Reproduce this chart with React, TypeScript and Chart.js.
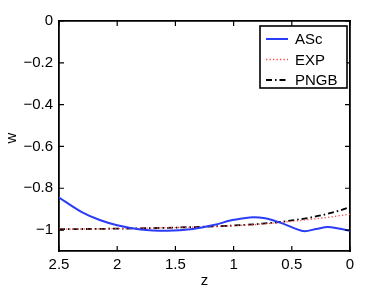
import React, { useEffect, useRef } from "react";
import { Chart, registerables } from "chart.js";

Chart.register(...registerables);

// ---- data ----
const zAsc = [2.5, 2.3, 2.15, 2.0, 1.8, 1.57, 1.35, 1.17, 1.0, 0.83, 0.73, 0.57, 0.47, 0.39, 0.29, 0.19, 0.1, 0];
const wAsc = [-0.844, -0.915, -0.952, -0.977, -0.997, -1.003, -0.995, -0.976, -0.951, -0.938, -0.943, -0.97, -0.993, -1.005, -0.995, -0.985, -0.992, -1.003];
const zModel = [2.5, 2.0, 1.5, 1.0, 0.75, 0.5, 0.25, 0.1, 0];
const wExp = [-0.996, -0.993, -0.988, -0.979, -0.971, -0.958, -0.943, -0.932, -0.924];
const wPngb = [-0.996, -0.993, -0.988, -0.978, -0.969, -0.954, -0.93, -0.908, -0.89];
const seriesLabels = ["ASc", "EXP", "PNGB"];
const xTicks = [0, 0.5, 1, 1.5, 2, 2.5];
const yTicks = [-1, -0.8, -0.6, -0.4, -0.2, 0];
const xTitle = "z";
const yTitle = "w";

const FONT = "'Liberation Sans', Arial, Helvetica, sans-serif";
const FS = 15;
const INK = "#000000";

const fmt = (v: number) => (v < 0 ? "\u2212" + String(Math.abs(v)) : String(v));

const decorPlugin = {
  id: "decor",
  afterDraw(chart: any) {
    const ctx = chart.ctx;
    const a = chart.chartArea;
    const xs = chart.scales.x;
    const ys = chart.scales.y;
    ctx.save();
    ctx.strokeStyle = INK;
    ctx.lineWidth = 1.2;
    const tl = 5;
    ctx.beginPath();
    xTicks.forEach((v) => {
      const px = xs.getPixelForValue(v);
      ctx.moveTo(px, a.bottom);
      ctx.lineTo(px, a.bottom - tl);
      ctx.moveTo(px, a.top);
      ctx.lineTo(px, a.top + tl);
    });
    yTicks.forEach((v) => {
      const py = ys.getPixelForValue(v);
      ctx.moveTo(a.left, py);
      ctx.lineTo(a.left + tl, py);
      ctx.moveTo(a.right, py);
      ctx.lineTo(a.right - tl, py);
    });
    ctx.stroke();

    ctx.fillStyle = "#000";
    ctx.font = `${FS}px ${FONT}`;
    ctx.textAlign = "center";
    ctx.textBaseline = "middle";
    ctx.fillText(xTitle, (a.left + a.right) / 2, 281);
    ctx.save();
    ctx.translate(12, 138);
    ctx.rotate(-Math.PI / 2);
    ctx.fillText(yTitle, 0, 0);
    ctx.restore();

    const lx = 260, ly = 26, lw = 87, lh = 62;
    ctx.fillStyle = "#fff";
    ctx.fillRect(lx, ly, lw, lh);
    ctx.strokeStyle = INK;
    ctx.lineWidth = 1.6;
    ctx.strokeRect(lx, ly, lw, lh);
    chart.data.datasets.forEach((ds: any, i: number) => {
      const yy = ly + 13 + i * 20.5;
      ctx.save();
      ctx.strokeStyle = ds.borderColor;
      ctx.lineWidth = ds.borderWidth;
      ctx.setLineDash(ds.borderDash || []);
      ctx.beginPath();
      ctx.moveTo(lx + 6, yy);
      ctx.lineTo(lx + 28, yy);
      ctx.stroke();
      ctx.restore();
      ctx.fillStyle = "#000";
      ctx.textAlign = "left";
      ctx.textBaseline = "middle";
      ctx.font = `${FS}px ${FONT}`;
      ctx.fillText(ds.label, lx + 35, yy + 1);
    });
    ctx.restore();
  },
};

const hiddenTicks = { display: false };
const frameBorder = { display: true, color: INK, width: 1.8 };
const noGrid = { display: true, drawOnChartArea: false, drawTicks: false, color: "rgba(0,0,0,0)" };

export default function App() {
  const ref = useRef<HTMLCanvasElement | null>(null);
  useEffect(() => {
    document.body.style.margin = "0";
    if (!ref.current) return;
    const chart = new Chart(ref.current, {
      type: "line",
      data: {
        datasets: [
          {
            label: seriesLabels[0],
            data: zAsc.map((z, i) => ({ x: z, y: wAsc[i] })),
            borderColor: "#2a3cf5",
            borderWidth: 2,
            pointRadius: 0,
            cubicInterpolationMode: "monotone",
          },
          {
            label: seriesLabels[1],
            data: zModel.map((z, i) => ({ x: z, y: wExp[i] })),
            borderColor: "#ff4a4a",
            borderWidth: 1.3,
            borderDash: [1.3, 2.2],
            pointRadius: 0,
            cubicInterpolationMode: "monotone",
          },
          {
            label: seriesLabels[2],
            data: zModel.map((z, i) => ({ x: z, y: wPngb[i] })),
            borderColor: "#000000",
            borderWidth: 1.8,
            borderDash: [6, 3, 1.5, 3],
            pointRadius: 0,
            cubicInterpolationMode: "monotone",
          },
        ],
      } as any,
      options: {
        animation: false,
        responsive: false,
        layout: { padding: { top: 21, right: 37, left: 0, bottom: 0 } },
        plugins: { legend: { display: false }, tooltip: { enabled: false } },
        scales: {
          x: {
            type: "linear",
            position: "bottom",
            reverse: true,
            min: 0,
            max: 2.5,
            grid: noGrid,
            border: frameBorder,
            afterBuildTicks: (s: any) => {
              s.ticks = xTicks.map((v) => ({ value: v }));
            },
            afterFit: (s: any) => {
              s.height = 40;
            },
            ticks: {
              padding: 5,
              color: "#000",
              maxRotation: 0,
              autoSkip: false,
              font: { family: FONT, size: FS },
              callback: (v: any) => fmt(Number(v)),
            },
          },
          xTop: {
            type: "linear",
            position: "top",
            reverse: true,
            min: 0,
            max: 2.5,
            grid: noGrid,
            border: frameBorder,
            ticks: hiddenTicks,
            afterFit: (s: any) => {
              s.height = 0;
            },
          },
          y: {
            type: "linear",
            position: "left",
            min: -1.1,
            max: 0,
            grid: noGrid,
            border: frameBorder,
            afterBuildTicks: (s: any) => {
              s.ticks = yTicks.map((v) => ({ value: v }));
            },
            afterFit: (s: any) => {
              s.width = 59;
            },
            ticks: {
              padding: 6,
              color: "#000",
              autoSkip: false,
              font: { family: FONT, size: FS },
              callback: (v: any) => fmt(Number(v)),
            },
          },
          yRight: {
            type: "linear",
            position: "right",
            min: -1.1,
            max: 0,
            grid: noGrid,
            border: frameBorder,
            ticks: hiddenTicks,
            afterFit: (s: any) => {
              s.width = 0;
            },
          },
        },
      } as any,
      plugins: [decorPlugin],
    });
    return () => chart.destroy();
  }, []);
  return (
    <div style={{ position: "fixed", left: 0, top: 0, width: 387, height: 291, background: "#fff" }}>
      <canvas ref={ref} width={387} height={291} style={{ width: 387, height: 291, display: "block" }} />
    </div>
  );
}
